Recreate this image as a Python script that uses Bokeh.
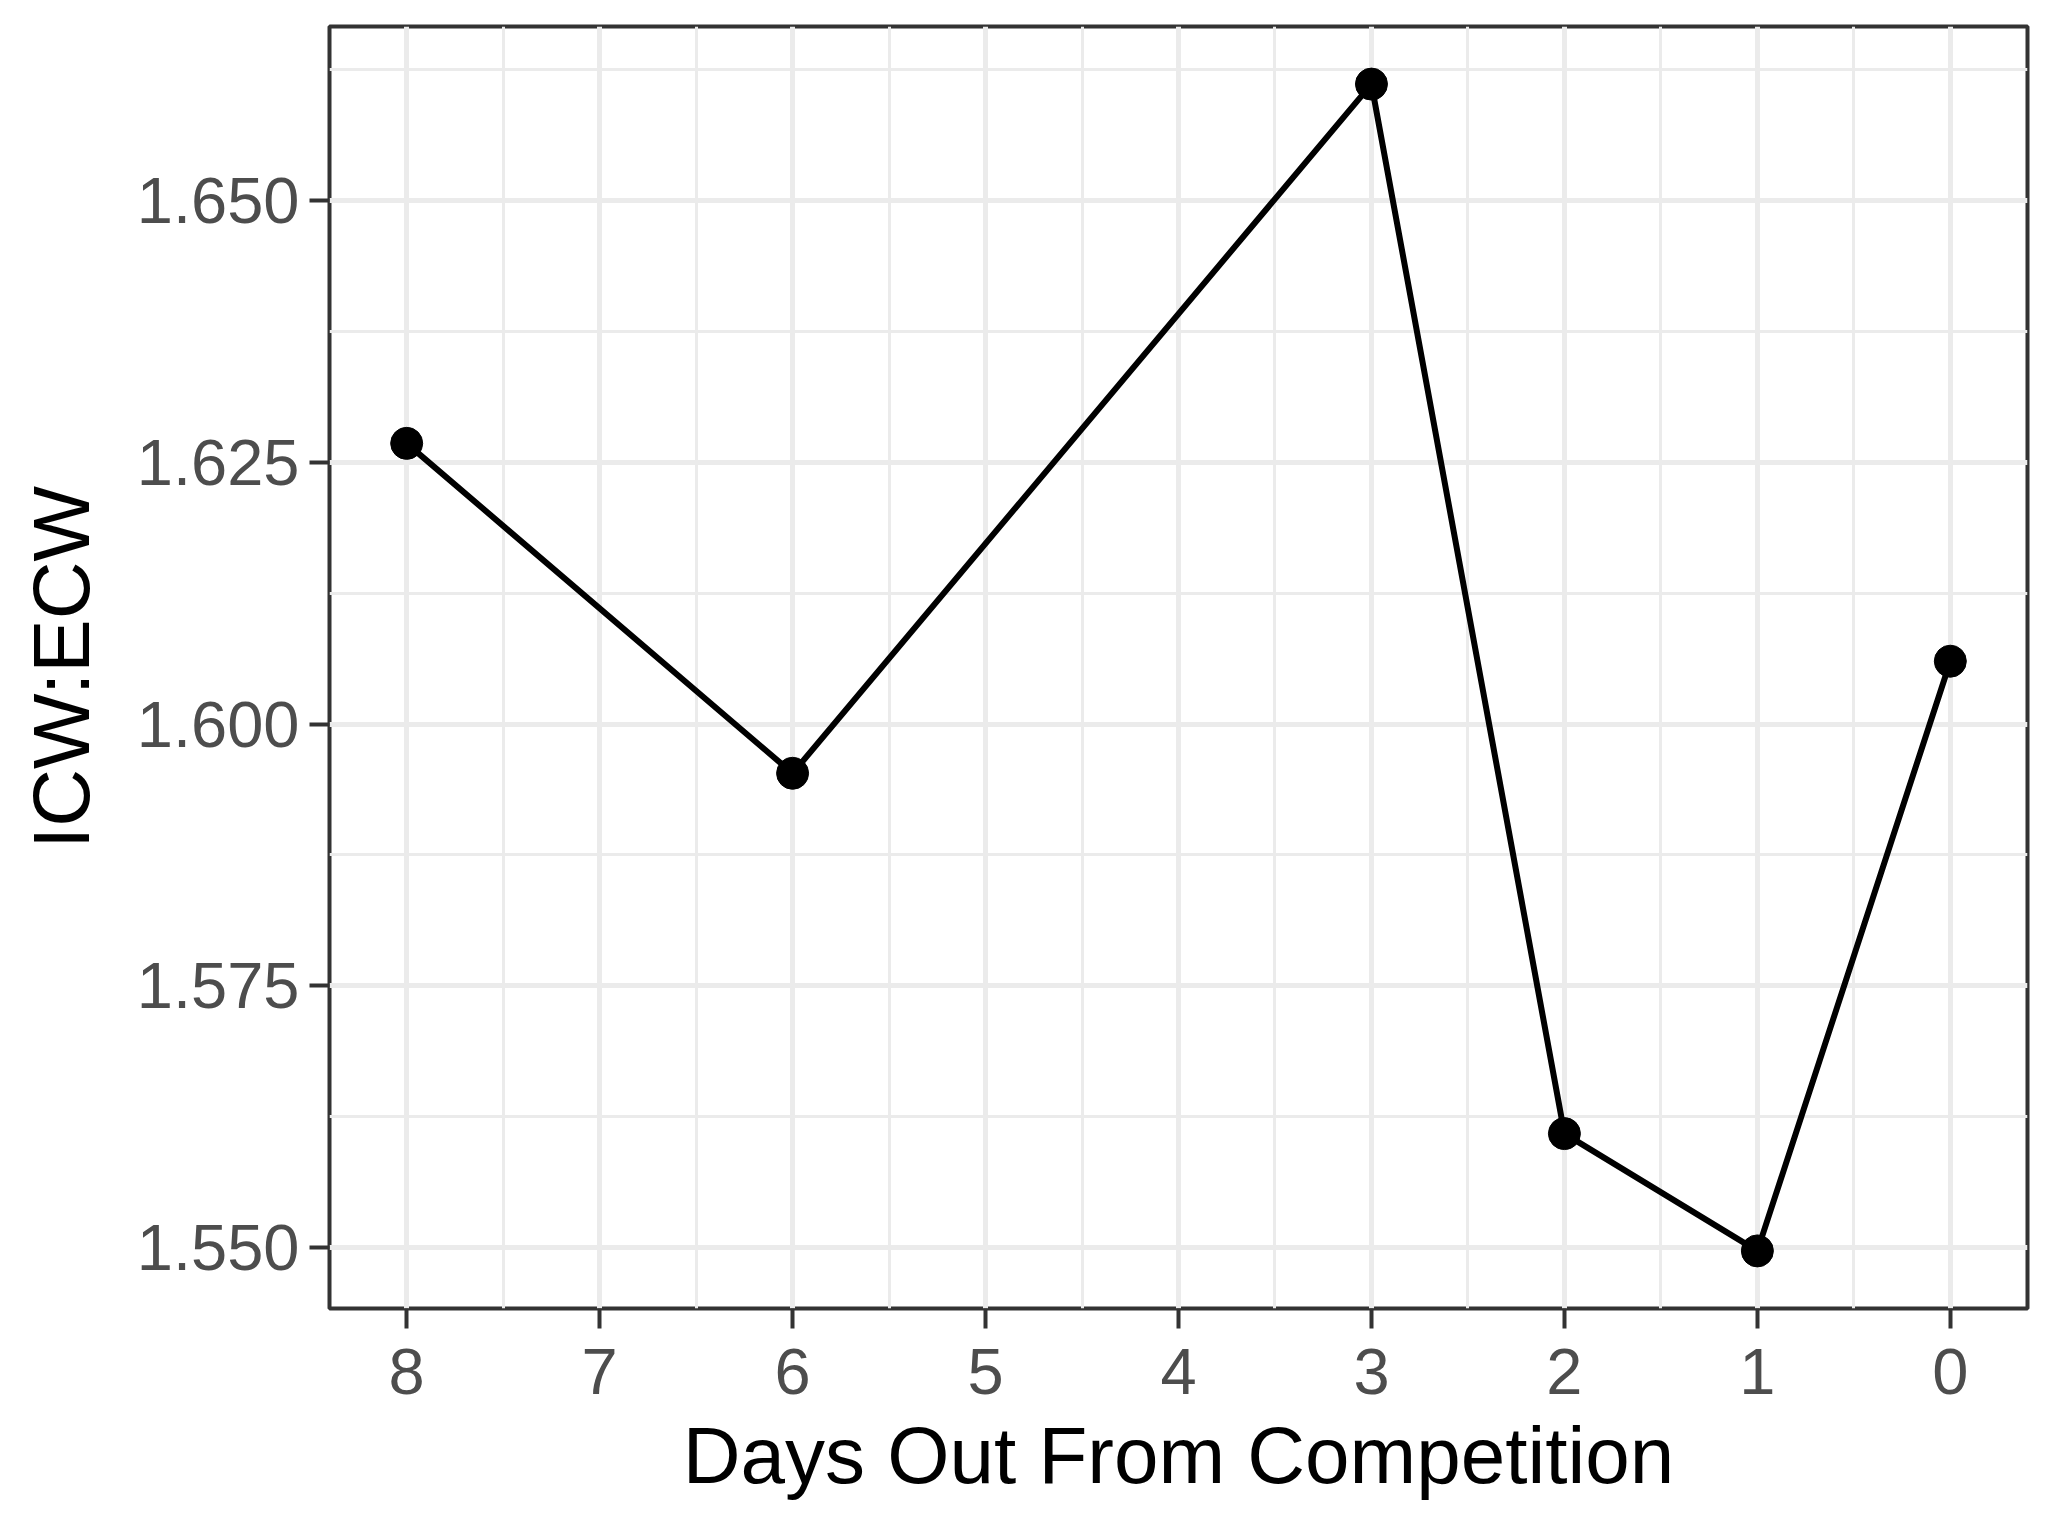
from bokeh.plotting import figure
from bokeh.models import FixedTicker, Range1d
from bokeh.embed import file_html
from bokeh.resources import INLINE

# Data
days = [8, 6, 3, 2, 1, 0]
ratio = [1.6268, 1.5953, 1.6611, 1.5609, 1.5497, 1.6060]

x_ticks = [0, 1, 2, 3, 4, 5, 6, 7, 8]
x_tick_labels = ["0", "1", "2", "3", "4", "5", "6", "7", "8"]
x_minor = [0.5, 1.5, 2.5, 3.5, 4.5, 5.5, 6.5, 7.5]
y_ticks = [1.550, 1.575, 1.600, 1.625, 1.650]
y_tick_labels = ["1.550", "1.575", "1.600", "1.625", "1.650"]
y_minor = [1.5625, 1.5875, 1.6125, 1.6375, 1.6625]

W, H = 2039, 1511
FL, FT, FW, FH = 329, 26, 1698, 1282

p = figure(width=W, height=H, output_backend="svg", toolbar_location=None,
           frame_width=FW, frame_height=FH,
           x_range=Range1d(8.4, -0.4), y_range=Range1d(1.5442, 1.6666))
p.min_border_left = FL
p.min_border_top = FT
p.min_border_right = W - FL - FW
p.min_border_bottom = H - FT - FH
p.background_fill_color = "white"
p.border_fill_color = "white"
p.outline_line_color = "#333333"
p.outline_line_width = 4

p.xaxis.ticker = FixedTicker(ticks=x_ticks, minor_ticks=x_minor)
p.yaxis.ticker = FixedTicker(ticks=y_ticks, minor_ticks=y_minor)
p.xaxis.major_label_overrides = {t: l for t, l in zip(x_ticks, x_tick_labels)}
p.yaxis.major_label_overrides = {t: l for t, l in zip(y_ticks, y_tick_labels)}

for g in (p.xgrid, p.ygrid):
    g.grid_line_color = "#EBEBEB"
    g.grid_line_width = 5
    g.minor_grid_line_color = "#EBEBEB"
    g.minor_grid_line_width = 3

for ax in (p.xaxis, p.yaxis):
    ax.axis_line_color = None
    ax.major_tick_out = 20
    ax.major_tick_in = 0
    ax.minor_tick_out = 0
    ax.minor_tick_in = 0
    ax.major_tick_line_color = "#333333"
    ax.major_tick_line_width = 4
    ax.major_label_text_font = "Liberation Sans"
    ax.major_label_text_font_size = "65px"
    ax.major_label_text_color = "#4D4D4D"
    ax.axis_label_text_font = "Liberation Sans"
    ax.axis_label_text_font_size = "80px"
    ax.axis_label_text_font_style = "normal"
    ax.axis_label_text_color = "black"

p.xaxis.major_label_text_align = "right"
p.xaxis.major_label_standoff = 20
p.yaxis.major_label_standoff = 10
p.xaxis.axis_label = "Days Out From Competition"
p.yaxis.axis_label = "ICW:ECW"
p.xaxis.axis_label_standoff = 14
p.yaxis.axis_label_standoff = 28

p.line(days, ratio, line_color="black", line_width=6)
p.scatter(days, ratio, size=32, fill_color="black", line_color="black")

open("out.html", "w").write(file_html(p, INLINE))
